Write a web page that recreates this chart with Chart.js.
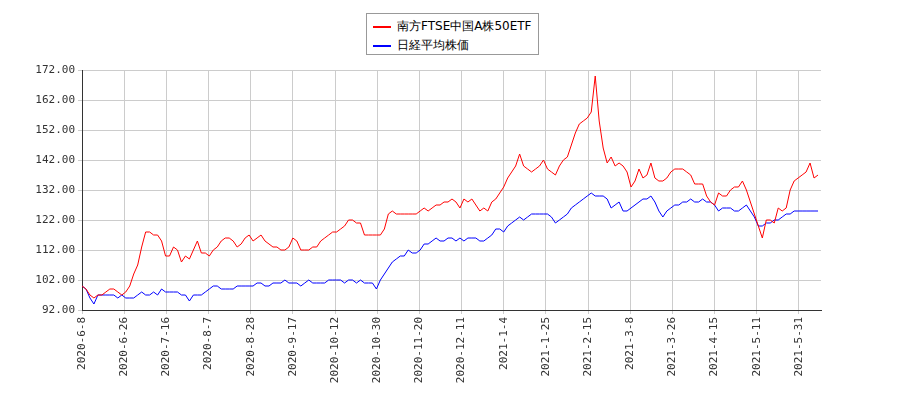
<!DOCTYPE html>
<html><head><meta charset="utf-8">
<script src="https://cdn.jsdelivr.net/npm/chart.js@4"></script>
<style>
body{margin:0;background:#fff;font-family:"DejaVu Sans",sans-serif}
#wrap{position:relative;width:900px;height:400px}
#leg{position:absolute;left:366px;top:13px;width:173px;height:42px;border:1px solid #999;background:#fff;font-size:12px;box-sizing:border-box;padding:3px 0 0 6px;line-height:19px}
#leg span{display:inline-block;width:18px;height:0;border-top:2px solid;vertical-align:middle;margin-right:6px}
</style></head><body>
<div id="wrap"><canvas id="c" width="900" height="400"></canvas>
<div id="leg"><div><span style="border-color:#ff0000"></span>南方FTSE中国A株50ETF</div><div><span style="border-color:#0000ff"></span>日経平均株価</div></div></div>
<script>
const tickLabels=["2020-6-8","2020-6-26","2020-7-16","2020-8-7","2020-8-28","2020-9-17","2020-10-12","2020-10-30","2020-11-20","2020-12-11","2021-1-4","2021-1-25","2021-2-15","2021-3-8","2021-3-26","2021-4-15","2021-5-11","2021-5-31"];
const seriesA=[100,99,97,96,97,97,98,99,99,98,97,98,100,104,107,113,118,118,117,117,115,110,110,113,112,108,110,109,112,115,111,111,110,112,113,115,116,116,115,113,114,116,117,115,116,117,115,114,113,113,112,112,113,116,115,112,112,112,113,113,115,116,117,118,118,119,120,122,122,121,121,117,117,117,117,117,119,124,125,124,124,124,124,124,124,125,126,125,126,127,127,128,128,129,128,126,129,128,129,127,125,126,125,128,129,131,133,136,138,140,144,140,139,138,139,140,142,139,138,137,140,142,143,147,151,154,155,156,158,170,155,146,141,143,140,141,140,138,133,135,139,136,137,141,136,135,135,136,138,139,139,139,138,137,134,134,134,130,128,127,131,130,130,132,133,133,135,132,128,124,120,116,122,122,121,126,125,126,132,135,136,137,138,141,136,137];
const seriesB=[100,99,96,94,97,97,97,97,97,96,97,96,96,96,97,98,97,97,98,97,99,98,98,98,98,97,97,95,97,97,97,98,99,100,100,99,99,99,99,100,100,100,100,100,101,101,100,100,101,101,101,102,101,101,101,100,101,102,101,101,101,101,102,102,102,102,101,102,102,101,102,101,101,101,99,102,104,106,108,109,110,110,112,111,111,112,114,114,115,116,115,115,116,116,115,116,115,116,116,116,115,115,116,117,119,119,118,120,121,122,123,122,123,124,124,124,124,124,123,121,122,123,124,126,127,128,129,130,131,130,130,130,129,126,127,128,125,125,126,127,128,129,129,130,128,125,123,125,126,127,127,128,128,129,128,128,129,128,128,127,125,126,126,126,125,125,126,127,125,123,120,120,121,121,122,122,123,124,124,125,125,125,125,125,125,125];
const tickStep=10.6;
const pts=a=>a.map((v,i)=>({x:i,y:v}));
new Chart(document.getElementById('c'),{type:'line',
data:{datasets:[{data:pts(seriesA),borderColor:'#ff0000',borderWidth:1,pointRadius:0,tension:0},
{data:pts(seriesB),borderColor:'#0000ff',borderWidth:1,pointRadius:0,tension:0}]},
options:{responsive:false,animation:false,events:[],
layout:{padding:{top:70,right:79,left:0,bottom:0}},
plugins:{legend:{display:false},tooltip:{enabled:false}},
scales:{
x:{type:'linear',min:0,max:seriesA.length-0.25,
afterBuildTicks:s=>{s.ticks=tickLabels.map((_,i)=>({value:i*tickStep}));},
afterFit:s=>{s.height=90;},
ticks:{autoSkip:false,maxRotation:90,minRotation:90,color:'#333',font:{family:'DejaVu Sans Mono',size:11},callback:(v,i)=>tickLabels[i]},
grid:{color:'#ccc',drawTicks:true,tickLength:4},border:{color:'#333'}},
y:{min:92,max:172,afterFit:s=>{s.width=82;},
afterBuildTicks:s=>{const t=[];for(let v=92;v<=172;v+=10)t.push({value:v});s.ticks=t;},
ticks:{color:'#333',font:{family:'DejaVu Sans Mono',size:11},callback:v=>v.toFixed(2)},
grid:{color:'#ccc',tickLength:4},border:{color:'#333'}}}}});
</script></body></html>
